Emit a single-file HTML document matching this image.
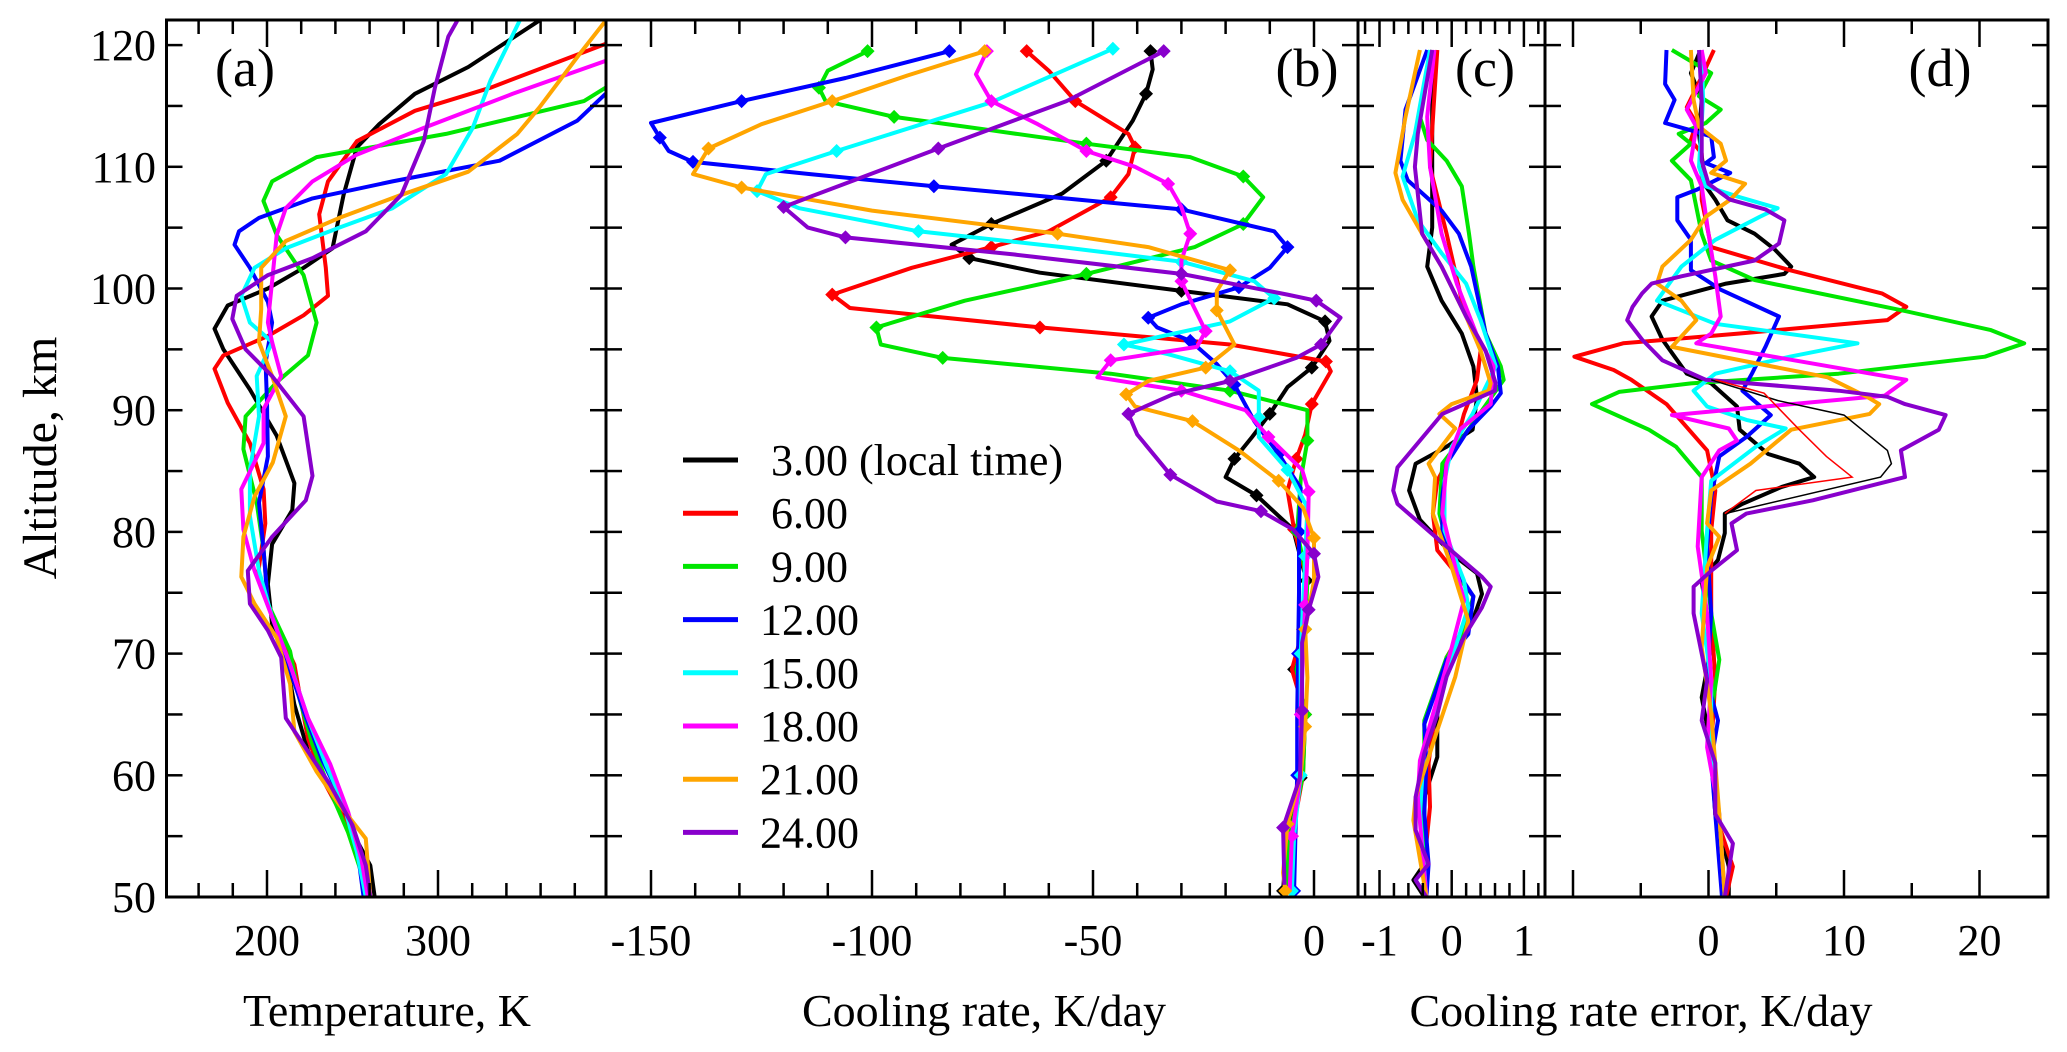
<!DOCTYPE html>
<html><head><meta charset="utf-8"><style>
html,body{margin:0;padding:0;background:#fff}
svg{display:block}
text{font-family:"Liberation Serif","DejaVu Serif",serif;fill:#000}
</style></head><body>
<svg id="chart" width="2067" height="1052" viewBox="0 0 2067 1052" xmlns="http://www.w3.org/2000/svg">
<defs>
<clipPath id="clipA"><rect x="166.5" y="20" width="439.5" height="877"/></clipPath>
<clipPath id="clipB"><rect x="606" y="20" width="752" height="877"/></clipPath>
<clipPath id="clipC"><rect x="1358" y="20" width="187" height="877"/></clipPath>
<clipPath id="clipD"><rect x="1545" y="20" width="503" height="877"/></clipPath>
</defs>
<g id="layer"></g>
</svg>
<script>
// ---------- data ----------
const seriesLabels = [" 3.00 (local time)", " 6.00", " 9.00", "12.00", "15.00", "18.00", "21.00", "24.00"];
const seriesColors = ["#000000", "#ff0000", "#00e600", "#0000ff", "#00ffff", "#ff00ff", "#ffa500", "#8800cc"];
const yTicks = [50, 60, 70, 80, 90, 100, 110, 120];
const aTicks = [200, 300];
const bTicks = [-150, -100, -50, 0];
const cTicks = [-1, 0, 1];
const dTicks = [0, 10, 20];

// panel (a) temperature [altitude km, K]
const tBlack = [[122,359],[118.2,317.7],[116,286.5],[113.5,265.6],[111.6,252.6],[107.7,244.8],[103.3,238.3],[101.7,221.4],[100,200.5],[98.6,177],[96.7,169.3],[95,174.5],[91.7,190],[87.9,205.7],[84,216],[81.8,214.8],[79,203],[75.7,200.5],[72.4,203],[69.7,211],[65.8,216],[62,224],[58.7,237],[55.3,250],[52.6,260.4],[50,263]];
const tRed = [[120.1,398],[116.5,330.7],[114.6,286.5],[112.1,252.6],[108.8,235.7],[106.1,230.5],[101.7,234.4],[99.4,235.7],[97.8,221.4],[96.1,200.5],[94.5,174.5],[93.4,169.3],[90.6,177],[87.3,190],[83.5,198],[80.7,199],[76.8,195],[73,203],[69.1,216],[66.9,218.8],[63,224],[59.2,234.4],[55.9,247],[52.6,257.8],[50,260]];
const tGreen = [[116.5,398],[115.4,385.4],[112.7,304.7],[110.8,229],[108.8,203],[107.2,197.9],[104.4,205.7],[101.1,221.4],[97.2,229],[94.5,224],[92.3,205.7],[89.5,187.5],[86.8,186.2],[82.4,194],[78.5,198],[74.1,200.5],[70.2,213.5],[66.4,218.8],[62.5,226.6],[58.7,237],[55.3,247.4],[52,255.2],[50,257.8]];
const tBlue = [[116,398],[113.8,381.5],[110.5,336],[108.8,273.4],[107.4,226.6],[105.8,195.3],[104.7,183.6],[103.6,181],[101.7,190],[98.9,200.5],[97.2,203],[93.9,199.2],[90.6,200],[86.2,200.5],[82.4,195.3],[78.5,198],[74.1,200.5],[69.7,211],[65.3,221.4],[61.4,231.8],[57.6,244.8],[54.2,252.6],[50,256.5]];
const tCyan = [[122,347.7],[117.1,330.7],[113.2,320.3],[109.4,304.7],[106.6,273.4],[105,242.2],[103.3,211],[101.7,192.7],[99.4,185],[97.2,190],[95.6,203],[92.8,194],[89.5,195.3],[85.1,190],[81.3,190],[76.8,195.3],[73,203],[69.1,213.5],[64.7,224],[60.9,234.4],[57.6,244.8],[53.7,252.6],[50,257.8]];
const tMagenta = [[118.7,398],[116,343.7],[113.2,291.7],[111,252.6],[108.8,226.6],[106.6,211],[104.4,205.7],[100.6,203],[97.2,200.5],[95.6,203],[92.8,208.3],[90.1,198],[87.3,198],[83.5,185],[80.2,186.2],[76.8,192.7],[73,203],[69.1,213.5],[64.7,224],[60.9,237],[57,247.4],[53.1,255.2],[50,259]];
const tOrange = [[122,398],[119.3,383],[114.9,359.4],[112.7,346.4],[109.6,317.7],[107.7,278.6],[105.8,242.2],[103.9,211],[101.7,196.6],[98.3,196.6],[95.6,195.3],[92.8,203],[89.5,211],[85.7,203.4],[82.9,192.7],[79.6,186.2],[76.3,185],[74.1,192.7],[71.3,205.7],[67.5,213.5],[63.6,216],[60.3,229],[57.6,242.2],[54.8,257.8],[50,260.4]];
const tPurple = [[122,311.2],[120.7,306],[116.5,298.2],[112.1,291.7],[107.7,278.6],[104.7,257.8],[102.5,226.6],[101.1,200.5],[99.4,182.3],[97.5,179.7],[95,187.5],[92.8,203],[89.5,221.4],[84.6,226.6],[82.6,222.7],[79.6,203],[76.8,188.8],[74.1,190],[71.9,200.5],[69.7,208.3],[64.7,211],[62.5,221.4],[59.2,237],[55.9,250],[52.6,257.8],[50,260.4]];

// panel (b) cooling rate [altitude km, K/day]
const bBlack = [[119.5,-37],[118,-36.5],[116,-38],[113.8,-41],[110.5,-47],[107.8,-57],[105.3,-73],[103.6,-82],[102.5,-78],[101.3,-62],[99.8,-30],[98.7,-6],[97.3,2.5],[95.7,3.5],[93.5,-0.5],[91.9,-6],[89.7,-10],[87.8,-14],[86,-18],[84.5,-20],[83,-13],[80.2,-4.7],[76,-1.7],[70.6,-3],[68.7,-4.5],[65.3,-2],[59.8,-3],[55.7,-6],[50.5,-7]];
const bRed = [[119.5,-65],[117.9,-60],[115.4,-54],[112.7,-42],[111.6,-40.5],[109.4,-42],[107.5,-46],[104.7,-60],[103.4,-73],[101.7,-91],[99.5,-109],[98.4,-105],[96.8,-62],[95.4,-19],[94,2.7],[93.2,3.8],[90.5,-0.5],[88,-2],[86,-4],[83.4,-6],[80.2,-4.5],[76,-1.5],[72,-2.5],[68.7,-5],[65,-2],[60,-2.5],[55,-5],[50.5,-6.5]];
const bGreen = [[119.5,-101],[117.9,-110],[116.5,-112],[115.4,-110.5],[114.1,-95],[113,-73],[111.9,-51.5],[110.8,-28],[109.2,-16],[107.5,-11.5],[105.3,-16],[103.4,-27],[101.2,-51.5],[99,-79],[96.8,-99],[95.4,-98],[94.3,-84],[93,-46],[91.6,-19],[90,-1.5],[87.5,-1.5],[84.3,-3],[80,-3.8],[76,-1.5],[72,-2],[68.7,-4],[65,-2],[60,-2.5],[55,-5.5],[50.5,-6.5]];
const bBlue = [[119.5,-82.5],[117.3,-106],[115.4,-129.5],[113.6,-150],[112.4,-148],[111.3,-146],[110.4,-140.5],[109.4,-114],[108.4,-86],[107.5,-59],[106.5,-30],[104.7,-9],[103.4,-6],[101.7,-10],[100.1,-17],[98.7,-30],[97.6,-37.5],[96.8,-35.5],[95.7,-28],[93.8,-22],[92.1,-18],[89.1,-13.5],[86.4,-8],[83.6,-3],[80,-3.4],[75,-3.4],[70,-3.6],[65,-3.8],[60,-3.8],[55,-4.2],[50.5,-4.5]];
const bCyan = [[119.7,-45.5],[115.3,-73],[111.3,-108],[109.4,-124],[108,-126],[106.6,-116.5],[104.7,-89.5],[103.4,-57],[102.2,-30],[100.6,-13.5],[99.2,-9],[97.3,-19],[95.4,-43],[94.6,-33],[93.2,-19],[91.6,-12.5],[89.4,-12.5],[87.8,-12.5],[85.1,-6],[82,-1.5],[78,-2],[74,-2.5],[70,-3],[65,-3],[60,-3],[55,-4.5],[50.5,-5]];
const bMagenta = [[119.5,-74],[117.6,-76.5],[115.4,-73],[113.5,-62.5],[111.3,-51.5],[110,-40.5],[108.6,-33],[106.7,-30],[104.5,-28],[102.3,-30],[100.6,-30],[98.7,-27.5],[96.5,-24.5],[95.2,-26.5],[94.1,-46],[92.7,-49],[91.6,-30],[90,-15.5],[87.8,-10.3],[85.1,-2.7],[83.3,-1.2],[78,-1.5],[74,-2],[70,-2.5],[65,-3],[60,-3],[55,-5],[50.5,-5.5]];
const bOrange = [[119.5,-74.5],[117.5,-92],[115.4,-109],[113.5,-125],[111.5,-137],[109.4,-140.5],[108.3,-129.5],[106.4,-100],[104.5,-58],[103.4,-37.5],[101.5,-19],[99.8,-22],[98.2,-22],[95.4,-18],[93.5,-24.5],[92.4,-37.5],[91.3,-42.5],[90.3,-40.5],[89.1,-27.5],[86.7,-17],[84.2,-8],[82,-2.5],[79.5,0],[76,0],[72,-2],[68,-1.5],[64,-2],[60,-3],[56,-6],[52,-7],[50.5,-6.5]];
const bPurple = [[119.5,-34],[115.4,-56],[111.5,-85],[107.6,-113.5],[106.7,-120],[105,-114.5],[104.2,-106],[102.8,-68],[101.2,-30],[99.5,-6],[99,0.5],[97.6,6],[95.4,1.6],[94.3,-4],[92.4,-19],[91.3,-32],[89.7,-42],[88,-40],[84.7,-32.5],[82.5,-22],[81.7,-12],[80.2,-4.7],[78.2,0],[76.3,1],[73.6,-1.2],[70.9,-2.7],[65.3,-2.7],[59.8,-3.2],[55.7,-7],[51,-6.7]];

// panel (c)
const cBlack = [[119.6,-0.27],[112.7,-0.27],[105,-0.27],[101.8,-0.34],[99,-0.14],[96.3,0.14],[93.6,0.3],[91,0.35],[88.4,0.29],[87,-0.07],[85.6,-0.5],[83.4,-0.59],[81,-0.44],[78.2,0],[76.6,0.35],[74.9,0.42],[72.7,0.29],[70,0],[66.4,-0.2],[61.5,-0.2],[58.2,-0.38],[52.7,-0.38],[51.4,-0.53],[50,-0.38]];
const cRed = [[119.6,-0.2],[115,-0.25],[110,-0.3],[104.5,-0.07],[99,0.14],[94.9,0.4],[92.5,0.35],[89.7,0.17],[87,0.05],[84.2,-0.2],[81.5,-0.26],[78.5,-0.2],[76.3,0.1],[74.7,0.3],[72.7,0.23],[69.7,-0.07],[66.4,-0.2],[61,-0.32],[57.4,-0.3],[52.7,-0.38],[50,-0.38]];
const cGreen = [[119.6,-0.27],[117,-0.35],[114.1,-0.44],[112.2,-0.34],[110.5,-0.07],[108.4,0.14],[104.5,0.24],[101.8,0.3],[96.3,0.47],[93.6,0.68],[92.5,0.72],[90.5,0.48],[88.4,0.23],[85.6,-0.13],[81.5,-0.17],[76.6,0.05],[74.7,0.3],[71.9,0.17],[69.7,-0.07],[64.5,-0.38],[61,-0.38],[56.9,-0.38],[50,-0.35]];
const cBlue = [[119.6,-0.34],[114.7,-0.64],[110.5,-0.71],[108.9,-0.61],[106.4,-0.14],[104.5,0.1],[101.8,0.27],[96.3,0.47],[93.6,0.64],[91.4,0.68],[90.3,0.54],[88.4,0.23],[85.6,-0.07],[82.9,-0.13],[80.1,-0.13],[77.4,0],[74.7,0.3],[71.6,0.23],[69.5,-0.07],[64.2,-0.38],[61,-0.35],[56.9,-0.38],[52.7,-0.32],[50,-0.35]];
const cCyan = [[119.6,-0.3],[112.7,-0.51],[109.2,-0.68],[105.6,-0.47],[102.9,-0.14],[100.4,0.2],[97.4,0.4],[93.6,0.61],[89.7,0.29],[87,0],[84.2,-0.1],[80.1,-0.1],[76,0.17],[73.8,0.23],[70.5,0.05],[62.3,-0.38],[56.9,-0.44],[50,-0.35]];
const cMagenta = [[119.6,-0.24],[114.1,-0.34],[110,-0.3],[104.5,-0.14],[100.4,0.07],[96.3,0.34],[93.6,0.58],[90.5,0.54],[88.4,0.11],[85.6,-0.07],[81.5,-0.13],[77.1,0.05],[74.4,0.17],[70.5,0],[61.2,-0.44],[58.2,-0.47],[50,-0.35]];
const cOrange = [[119.6,-0.44],[114.1,-0.64],[109.5,-0.78],[107.3,-0.68],[104.5,-0.41],[101.8,-0.14],[97.7,0.2],[94.9,0.4],[92.2,0.54],[91.6,0.51],[90.5,0],[89.7,-0.17],[88.5,0.05],[85.6,-0.32],[84.5,-0.23],[81.5,-0.26],[77.1,0],[72.7,0.23],[68.1,0.05],[63.7,-0.2],[58.2,-0.5],[56.3,-0.53],[50,-0.35]];
const cPurple = [[119.6,-0.27],[112.7,-0.47],[110,-0.51],[104.5,-0.41],[101.8,-0.14],[97.7,0.2],[94.9,0.47],[92.2,0.61],[91.6,0.6],[89.7,-0.13],[87.5,-0.44],[85.3,-0.75],[83.4,-0.81],[82.3,-0.75],[80.7,-0.44],[78.8,-0.07],[76.3,0.42],[75.5,0.54],[73.8,0.42],[71.4,0.17],[68.1,-0.07],[65,-0.2],[61.8,-0.38],[58.2,-0.5],[55.5,-0.5],[52.7,-0.32],[51.4,-0.5],[50,-0.35]];

// panel (d) error
const dBlack = [[119.3,-0.7],[117.7,-1.3],[115.5,-0.5],[112.7,-0.7],[110,-0.4],[108.4,-0.2],[107.3,0.5],[105.6,1.4],[104.5,3.4],[103.2,4.9],[101.8,6.1],[101.2,5.6],[100.4,1.3],[99,-3.4],[97.7,-4.2],[95.8,-3.4],[93,-1.6],[92.2,0.2],[90.3,2.1],[88.4,2.3],[86.4,4.4],[85.6,6.7],[84.5,7.8],[83.7,5.4],[82.3,2.5],[81.5,1.2],[79.9,1.2],[77.7,0.7],[76,-0.5],[70.5,0.2],[66.4,-0.5],[62.3,0.2],[56.8,0.5],[52.5,1.5],[50,1.5]];
const dRed = [[119.6,0.4],[117.4,-0.5],[114.9,-1.6],[113.6,-0.9],[112.2,-1.3],[111.1,-0.5],[107.3,-0.5],[103.4,0.2],[101.5,6],[99.6,12.8],[98.5,14.6],[97.4,13.2],[96.3,2.3],[95.5,-6.3],[94.4,-9.9],[93.3,-7],[92.5,-5.7],[90.5,-3.1],[86.7,-0.1],[83.4,0.5],[80.1,0.2],[73.3,0.2],[67.8,0.5],[62.3,0.2],[56.8,0.5],[52.5,1.8],[50,1.3]];
const dGreen = [[119.6,-2.7],[117.7,0.2],[115.8,-0.7],[114.7,0.9],[113.6,-0.2],[112.7,-2.2],[111.9,-1.3],[110.5,-2.7],[108.9,-1.3],[104.5,-0.5],[102.3,0.2],[100.7,3.4],[98.2,14.3],[96.6,20.8],[95.5,23.3],[94.4,20.4],[93,9.6],[92.2,-1.3],[91.5,-6.6],[90.5,-8.6],[88.4,-4.4],[87,-2.4],[84.5,-0.5],[80.1,-0.5],[73.3,0.2],[69.5,0.8],[65.1,0.2],[56.8,0.5],[50,1.2]];
const dBlue = [[119.6,-3.1],[116.8,-3.2],[115.5,-2.5],[113.6,-3.2],[113,-1.3],[112.5,0.2],[110.8,0.4],[110.3,-0.2],[109.5,1.6],[108.1,-0.9],[107.5,-2.3],[105.6,-2.3],[104,-1.3],[101.5,-1.3],[99.9,0.9],[97.7,5.2],[95.2,4.2],[93,3.2],[91.6,2.5],[89.6,4.6],[87.8,2.8],[86.2,0.8],[82.9,0.2],[78.8,-0.1],[73.3,0.2],[67.8,-0.1],[64.5,0.7],[61.2,0.2],[56.8,0.5],[52.7,0.8],[50,1]];
const dCyan = [[119.6,-0.5],[115.5,-0.4],[110,-0.7],[108.4,-0.2],[107.5,2.3],[106.6,5.1],[105.9,3.8],[104,0.5],[101.8,-2],[99,-3.8],[97.1,0.5],[95.5,11],[94.4,6],[93,0.5],[91.6,-1.1],[90.3,-0.1],[89.2,2.8],[88.5,5.7],[87,3.5],[84.2,0.2],[80.1,-0.1],[73.3,-0.5],[67.8,0.2],[62.3,0.2],[56.8,0.8],[50,1.2]];
const dMagenta = [[119.6,-0.5],[117.7,-0.2],[114.7,-1.6],[113.3,-0.9],[110.5,-1.3],[108.4,-0.5],[104.5,0],[101,0.5],[97.7,0.9],[96.3,0.2],[95.5,-0.9],[92.5,14.6],[91.2,13],[89.6,-2.7],[88.5,1.5],[87.5,2.1],[86.7,0.8],[84.5,-0.5],[78.8,-0.8],[73.3,-0.1],[67.8,0.2],[62.3,-0.1],[56.8,0.8],[50,1.2]];
const dOrange = [[119.6,-1.3],[115.5,-1.1],[113.3,-0.7],[111.9,0.9],[110.5,1.3],[109.5,0.2],[108.6,2.7],[107.3,1.6],[105.9,-0.2],[104,-1.3],[101.8,-3.4],[100.4,-3.8],[99,-2],[97.4,-0.9],[95.2,-2.7],[92.7,8.8],[91.1,11.7],[90.5,12.6],[89.7,11.9],[88.4,6.1],[85.6,3.1],[83.4,0.2],[80.7,-0.1],[79.6,0.8],[77.1,-0.1],[70.5,-0.5],[65.1,0.2],[56.8,0.8],[50,1.2]];
const dPurple = [[119.6,-0.7],[115.5,-0.5],[110.5,-0.5],[108.6,0],[107.3,1.6],[106.5,4.2],[105.6,5.6],[103.7,5.2],[102.3,3.4],[101,-2],[100.4,-4.2],[99.6,-4.9],[98.5,-5.6],[97.4,-6],[95.8,-4.9],[94.1,-3.4],[92.5,-0.2],[91.6,9.6],[91.1,13.2],[90.5,14.5],[89.6,17.5],[88.4,17],[86.7,14.2],[84.5,14.5],[82.6,7.7],[81.5,2.8],[80.7,1.7],[78.5,2.1],[76.8,0.2],[75.5,-1.1],[73.3,-1.1],[67.8,-0.1],[64.5,-0.5],[61,0.5],[56.8,0.5],[54.4,1.8],[50,1.2]];
const dThinBlack = [[92.5,0.2],[90.8,5.1],[89.6,10],[86.7,13.2],[85.6,13.5],[84.5,12.7],[81.5,1.2]];
const dThinRed = [[92.5,0.5],[91.4,4.1],[88.4,6.7],[86.2,8.7],[84.5,10.6],[83.4,3.5],[81.5,1.2]];

const panelA = [tBlack, tRed, tGreen, tBlue, tCyan, tMagenta, tOrange, tPurple];
const panelB = [bBlack, bRed, bGreen, bBlue, bCyan, bMagenta, bOrange, bPurple];
const panelC = [cBlack, cRed, cGreen, cBlue, cCyan, cMagenta, cOrange, cPurple];
const panelD = [dBlack, dRed, dGreen, dBlue, dCyan, dMagenta, dOrange, dPurple];

// ---------- scales ----------
const NS = "http://www.w3.org/2000/svg";
const layer = document.getElementById("layer");
const Y0 = 897, Y1 = 20;
function yPix(alt){ return 897 - (alt - 50) * 12.17; }
const axA = {x0:166.5, x1:606, f:function(v){return 267 + (v - 200) * 1.71;}, clip:"clipA", name:"panel-a"};
const axB = {x0:606, x1:1358, f:function(v){return 1314 + v * 4.42;}, clip:"clipB", name:"panel-b"};
const axC = {x0:1358, x1:1545, f:function(v){return 1451.7 + v * 72.2;}, clip:"clipC", name:"panel-c"};
const axD = {x0:1545, x1:2048, f:function(v){return 1708.5 + v * 13.55;}, clip:"clipD", name:"panel-d"};

function mk(tag, attrs, parent){
  const e = document.createElementNS(NS, tag);
  for (const k in attrs) e.setAttribute(k, attrs[k]);
  (parent || layer).appendChild(e);
  return e;
}
function pts(ax, arr){ return arr.map(function(p){ return ax.f(p[1]).toFixed(1) + "," + yPix(p[0]).toFixed(1); }).join(" "); }

function drawSeries(ax, list, width, markers){
  const g = mk("g", {"clip-path":"url(#" + ax.clip + ")"});
  
  
  list.forEach(function(arr, i){
    const pl = mk("polyline", {points:pts(ax, arr), fill:"none", stroke:seriesColors[i], "stroke-width":width, "stroke-linejoin":"round"}, g);
    
    
    if (markers) {
      arr.forEach(function(p, j){
        if (j % 2 !== 0 || p[0] > 119.8) return;
        const x = ax.f(p[1]), y = yPix(p[0]), s = 7;
        const dm = mk("polygon", {points:(x)+","+(y-s)+" "+(x+s)+","+y+" "+x+","+(y+s)+" "+(x-s)+","+y, fill:seriesColors[i]}, g);
        
        
      });
    }
  });
  return g;
}

drawSeries(axA, panelA, 4, false);
drawSeries(axB, panelB, 4, true);
drawSeries(axC, panelC, 4, false);
const gd = drawSeries(axD, panelD, 4, false);
[dThinBlack, dThinRed].forEach(function(arr, i){
  const pl = mk("polyline", {points:pts(axD, arr), fill:"none", stroke:seriesColors[i], "stroke-width":1.5}, gd);
  
  
});

// ---------- axes ----------
function vTicks(ax){
  for (let a = 50; a <= 120; a += 5) {
    const y = yPix(a);
    const t1 = mk("line", {x1:ax.x0, x2:ax.x0 + 16, y1:y, y2:y, stroke:"#000", "stroke-width":2.5});
    
    
    const t2 = mk("line", {x1:ax.x1, x2:ax.x1 - 16, y1:y, y2:y, stroke:"#000", "stroke-width":2.5});
    
    
  }
}
function hTicks(ax, start, end, step, majorEvery){
  let k = 0;
  for (let v = start; v <= end + 1e-9; v += step, k++) {
    const x = ax.f(v);
    if (x < ax.x0 + 2 || x > ax.x1 - 2) continue;
    const isMajor = Math.abs(v / majorEvery - Math.round(v / majorEvery)) < 1e-6;
    const L = isMajor ? 27 : 14;
    const b = mk("line", {x1:x, x2:x, y1:Y0, y2:Y0 - L, stroke:"#000", "stroke-width":2.5});
    
    
    const t = mk("line", {x1:x, x2:x, y1:Y1, y2:Y1 + L, stroke:"#000", "stroke-width":2.5});
    
    
  }
}
[axA, axB, axC, axD].forEach(vTicks);
hTicks(axA, 140, 400, 20, 100);
hTicks(axB, -160, 10, 10, 50);
hTicks(axC, -1.2, 1.2, 0.2, 1);
hTicks(axD, -10, 25, 5, 10);

function tickLabels(ax, ticks, name){
  ticks.forEach(function(v){
    const t = mk("text", {x:ax.f(v), y:955, "font-size":44, "text-anchor":"middle"});
    t.textContent = String(v);
    
    
  });
}
tickLabels(axA, aTicks, 'temperature-tick-label');
tickLabels(axB, bTicks, 'cooling-rate-tick-label');
tickLabels(axC, cTicks, 'cooling-rate-diff-tick-label');
tickLabels(axD, dTicks, 'cooling-rate-error-tick-label');
yTicks.forEach(function(a){
  const t = mk("text", {x:156, y:yPix(a) + 15, "font-size":44, "text-anchor":"end"});
  t.textContent = String(a);
  
  
});

// frames
const frame = mk("rect", {x:166.5, y:20, width:1881.5, height:877, fill:"none", stroke:"#000", "stroke-width":3});


[606, 1358, 1545].forEach(function(x){
  const l = mk("line", {x1:x, x2:x, y1:20, y2:897, stroke:"#000", "stroke-width":3});
  
  
});

// panel labels
[["(a)", 245, "panel-a-label"], ["(b)", 1307, "panel-b-label"], ["(c)", 1485, "panel-c-label"], ["(d)", 1940, "panel-d-label"]].forEach(function(p){
  const t = mk("text", {x:p[1], y:86, "font-size":54, "text-anchor":"middle"});
  t.textContent = p[0];
  
  
});

// axis titles
const yt = mk("text", {x:0, y:0, "font-size":48, "text-anchor":"middle", transform:"translate(56,458) rotate(-90)"});
yt.textContent = "Altitude, km";


[["Temperature, K", 387, "temperature-axis-title"], ["Cooling rate, K/day", 984, "cooling-rate-axis-title"], ["Cooling rate error, K/day", 1641, "cooling-rate-error-axis-title"]].forEach(function(p){
  const t = mk("text", {x:p[1], y:1026, "font-size":46, "text-anchor":"middle"});
  t.textContent = p[0];
  
  
});

// legend
const lg = mk("g", {});


seriesLabels.forEach(function(lab, i){
  const y = 460 + i * 53.2;
  const ln = mk("line", {x1:683, x2:738, y1:y, y2:y, stroke:seriesColors[i], "stroke-width":5}, lg);
  
  
  const t = mk("text", {x:760, y:y + 15, "font-size":44, "xml:space":"preserve"}, lg);
  t.setAttribute("style", "white-space:pre");
  t.textContent = lab;
  
  
});
</script>
</body></html>
